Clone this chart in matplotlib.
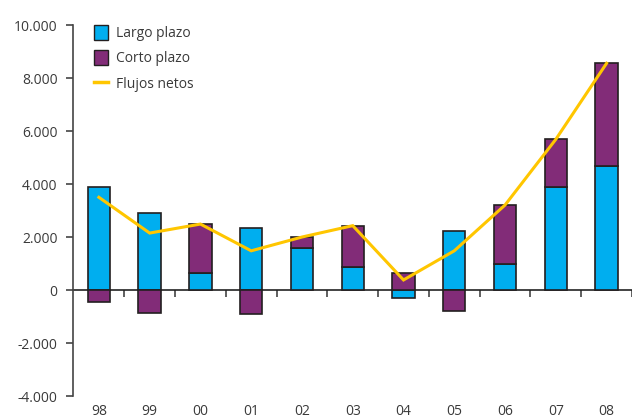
import matplotlib
matplotlib.use("Agg")
import matplotlib.pyplot as plt
from matplotlib.patches import Patch
from matplotlib.lines import Line2D
import numpy as np

years = ["98", "99", "00", "01", "02", "03", "04", "05", "06", "07", "08"]
largo_plazo = [3900, 2920, 650, 2350, 1570, 860, -290, 2240, 980, 3900, 4680]
corto_plazo = [-450, -850, 1830, -900, 420, 1570, 650, -780, 2230, 1790, 3880]
flujos_netos = [3500, 2150, 2490, 1480, 2000, 2430, 380, 1480, 3210, 5690, 8560]
yticks = [-4000, -2000, 0, 2000, 4000, 6000, 8000, 10000]
ytick_labels = ["-4.000", "-2.000", "0", "2.000", "4.000", "6.000", "8.000", "10.000"]

C_LARGO = "#00AEEF"
C_CORTO = "#822C78"
C_LINE = "#FFC600"
EDGE = "#231F20"
TXT = "#3A3A3A"

plt.rcParams["font.family"] = ["Open Sans", "DejaVu Sans"]

fig = plt.figure(figsize=(6.32, 4.18), dpi=100)
ax = fig.add_axes([0.1155, 0.0526, 0.8845, 0.8874])

x = np.arange(len(years))
lp = np.array(largo_plazo)
cp = np.array(corto_plazo)
lp_bottom = np.zeros_like(lp)
cp_bottom = np.where((cp > 0) & (lp > 0), lp, 0)
cp_bottom = np.where((cp < 0) & (lp < 0), lp, cp_bottom)

w = 0.44
ax.bar(x, lp, w, bottom=lp_bottom, color=C_LARGO, edgecolor=EDGE, linewidth=1.2, zorder=2)
ax.bar(x, cp, w, bottom=cp_bottom, color=C_CORTO, edgecolor=EDGE, linewidth=1.2, zorder=2)
ax.plot(x, flujos_netos, color=C_LINE, linewidth=2.2, zorder=4, solid_joinstyle="miter")

ax.set_xlim(-0.51, 10.5)
ax.set_ylim(-4000, 10000)

for s in ["top", "right", "bottom"]:
    ax.spines[s].set_visible(False)
ax.spines["left"].set_color("#444444")
ax.spines["left"].set_linewidth(1.2)

ax.set_yticks(yticks)
ax.set_yticklabels(ytick_labels)
ax.tick_params(axis="y", direction="out", length=5, width=1.2, color="#444444",
               labelsize=10, labelcolor=TXT, pad=6)

ax.set_xticks(x)
ax.set_xticklabels(years)
ax.tick_params(axis="x", length=0, labelsize=10, labelcolor=TXT, pad=6)

sec = ax.secondary_xaxis(4000 / 14000)
sec.set_xticks(np.arange(0.5, len(years), 1.0))
sec.set_xticklabels([])
sec.spines["bottom"].set_color("#222222")
sec.spines["bottom"].set_linewidth(1.2)
sec.tick_params(direction="out", length=5, width=1.2, color="#444444")

handles = [
    Patch(facecolor=C_LARGO, edgecolor=EDGE, linewidth=1.0, label="Largo plazo"),
    Patch(facecolor=C_CORTO, edgecolor=EDGE, linewidth=1.0, label="Corto plazo"),
    Line2D([0], [0], color=C_LINE, linewidth=2.5, label="Flujos netos"),
]
leg = ax.legend(handles=handles, loc="upper left", bbox_to_anchor=(0.015, 1.035),
                frameon=False, fontsize=10, handlelength=1.0, handleheight=1.3,
                handletextpad=0.6, labelspacing=0.68, labelcolor=TXT)

fig.savefig("out.png", dpi=100)
